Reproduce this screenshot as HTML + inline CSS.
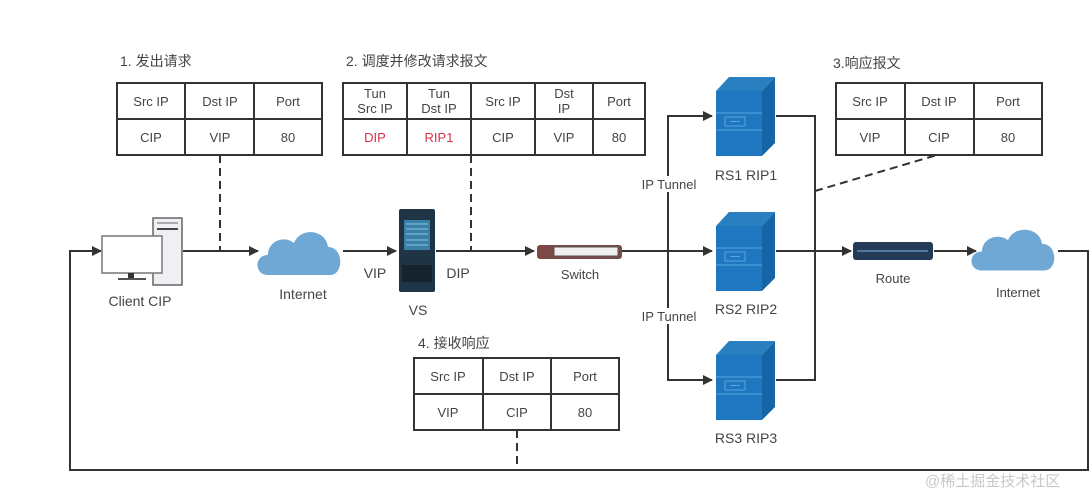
<!DOCTYPE html>
<html><head><meta charset="utf-8"><style>
html,body{margin:0;padding:0;background:#fff;}
svg{display:block;}
text{font-family:"Liberation Sans","Noto Sans CJK SC",sans-serif;fill:#444;}
</style></head><body>
<svg width="1091" height="495" viewBox="0 0 1091 495" xmlns="http://www.w3.org/2000/svg">
<defs>
<marker id="a" markerWidth="10" markerHeight="10" refX="9" refY="5" orient="auto" markerUnits="userSpaceOnUse"><path d="M0,0 L10,5 L0,10 z" fill="#333"/></marker>
<g id="srv">
<polygon points="716,14 729,0 775,0 762,14" fill="#2a7fc0"/>
<polygon points="762,14 775,0 775,66 762,79" fill="#1565a6"/>
<rect x="716" y="14" width="46" height="65" fill="#1f78bf"/>
<line x1="716" y1="36" x2="762" y2="36" stroke="#5aa6dd" stroke-width="1"/>
<line x1="716" y1="53" x2="762" y2="53" stroke="#5aa6dd" stroke-width="1"/>
<rect x="725" y="40" width="20" height="9" fill="none" stroke="#5aa6dd" stroke-width="1"/>
<line x1="730" y1="44.5" x2="740" y2="44.5" stroke="#5aa6dd"/>
</g>
<g id="cloud"><path d="M0,50 C-14,50 -14,30 0,30 C0,16 16,10 26,18 C32,2 58,4 60,22 C76,22 76,50 62,50 Z" fill="#6fa8d4"/></g>
</defs>
<g stroke="#333" stroke-width="2" fill="none">
<!-- main line -->
<line x1="183" y1="251" x2="258" y2="251" marker-end="url(#a)"/>
<line x1="343" y1="251" x2="396" y2="251" marker-end="url(#a)"/>
<line x1="436" y1="251" x2="534" y2="251" marker-end="url(#a)"/>
<line x1="622" y1="251" x2="712" y2="251" marker-end="url(#a)"/>
<polyline points="712,116 668,116 668,380 712,380"/>
<line x1="668" y1="116" x2="712" y2="116" marker-end="url(#a)"/>
<line x1="668" y1="380" x2="712" y2="380" marker-end="url(#a)"/>
<polyline points="776,116 815,116 815,380 776,380"/>
<line x1="776" y1="251" x2="851" y2="251" marker-end="url(#a)"/>
<line x1="934" y1="251" x2="976" y2="251" marker-end="url(#a)"/>
<polyline points="1058,251 1088,251 1088,470 70,470 70,251 100,251"/>
<line x1="70" y1="251" x2="101" y2="251" marker-end="url(#a)"/>
<g stroke-dasharray="8,5">
<line x1="220" y1="155" x2="220" y2="251"/>
<line x1="471" y1="155" x2="471" y2="251"/>
<line x1="517" y1="430" x2="517" y2="470"/>
<line x1="815" y1="191" x2="937" y2="155"/>
</g>
</g>
<!-- tables -->
<g stroke="#333" stroke-width="2" fill="#fff">
<rect x="117" y="83" width="205" height="72"/>
<line x1="117" y1="119" x2="322" y2="119"/><line x1="185" y1="83" x2="185" y2="155"/><line x1="254" y1="83" x2="254" y2="155"/>
<rect x="343" y="83" width="302" height="72"/>
<line x1="343" y1="119" x2="645" y2="119"/><line x1="407" y1="83" x2="407" y2="155"/><line x1="471" y1="83" x2="471" y2="155"/><line x1="535" y1="83" x2="535" y2="155"/><line x1="593" y1="83" x2="593" y2="155"/>
<rect x="836" y="83" width="206" height="72"/>
<line x1="836" y1="119" x2="1042" y2="119"/><line x1="905" y1="83" x2="905" y2="155"/><line x1="974" y1="83" x2="974" y2="155"/>
<rect x="414" y="358" width="205" height="72"/>
<line x1="414" y1="394" x2="619" y2="394"/><line x1="483" y1="358" x2="483" y2="430"/><line x1="551" y1="358" x2="551" y2="430"/>
</g>
<g font-size="13" text-anchor="middle">
<text x="151" y="106">Src IP</text><text x="220" y="106">Dst IP</text><text x="288" y="106">Port</text>
<text x="151" y="142">CIP</text><text x="220" y="142">VIP</text><text x="288" y="142">80</text>
<text x="375" y="98">Tun</text><text x="375" y="113">Src IP</text><text x="439" y="98">Tun</text><text x="439" y="113">Dst IP</text>
<text x="503" y="106">Src IP</text><text x="564" y="98">Dst</text><text x="564" y="113">IP</text><text x="619" y="106">Port</text>
<text x="375" y="142" style="fill:#d9344a">DIP</text><text x="439" y="142" style="fill:#d9344a">RIP1</text><text x="503" y="142">CIP</text><text x="564" y="142">VIP</text><text x="619" y="142">80</text>
<text x="870" y="106">Src IP</text><text x="939" y="106">Dst IP</text><text x="1008" y="106">Port</text>
<text x="870" y="142">VIP</text><text x="939" y="142">CIP</text><text x="1008" y="142">80</text>
<text x="448" y="381">Src IP</text><text x="517" y="381">Dst IP</text><text x="585" y="381">Port</text>
<text x="448" y="417">VIP</text><text x="517" y="417">CIP</text><text x="585" y="417">80</text>
</g>
<g font-size="14">
<text x="120" y="66">1. 发出请求</text>
<text x="346" y="66">2. 调度并修改请求报文</text>
<text x="833" y="68">3.响应报文</text>
<text x="418" y="348">4. 接收响应</text>
</g>
<!-- client -->
<rect x="153" y="218" width="29" height="67" fill="#eef0f4" stroke="#666" stroke-width="1.5"/>
<line x1="157" y1="223" x2="178" y2="223" stroke="#666"/><line x1="157" y1="229" x2="178" y2="229" stroke="#444" stroke-width="2"/>
<rect x="102" y="236" width="60" height="37" fill="#fff" stroke="#777" stroke-width="1.5"/>
<rect x="128" y="273" width="6" height="5" fill="#333"/><line x1="118" y1="279" x2="146" y2="279" stroke="#555" stroke-width="2"/>
<g font-size="14" text-anchor="middle">
<text x="140" y="306">Client CIP</text>
<text x="303" y="299">Internet</text>
<text x="375" y="278">VIP</text>
<text x="458" y="278">DIP</text>
<text x="418" y="315">VS</text>
<text x="580" y="279" font-size="13">Switch</text>
<text x="746" y="180">RS1 RIP1</text>
<text x="746" y="314">RS2 RIP2</text>
<text x="746" y="443">RS3 RIP3</text>
<text x="893" y="283" font-size="13">Route</text>
<text x="1018" y="297" font-size="13">Internet</text>
</g>
<g font-size="13" text-anchor="middle">
<rect x="636" y="176" width="66" height="16" fill="#fff"/><text x="669" y="189">IP Tunnel</text>
<rect x="636" y="308" width="66" height="16" fill="#fff"/><text x="669" y="321">IP Tunnel</text>
</g>
<use href="#cloud" transform="translate(268,225)"/>
<use href="#cloud" transform="translate(982,223) scale(1,0.95)"/>
<!-- VS -->
<rect x="399" y="209" width="36" height="83" rx="2" fill="#1f3444"/>
<rect x="404" y="220" width="26" height="30" fill="#3a7fa8"/>
<g stroke="#8fc4e0" stroke-width="1"><line x1="406" y1="224" x2="428" y2="224"/><line x1="406" y1="229" x2="428" y2="229"/><line x1="406" y1="234" x2="428" y2="234"/><line x1="406" y1="240" x2="428" y2="240"/><line x1="406" y1="245" x2="428" y2="245"/></g>
<rect x="402" y="265" width="30" height="17" fill="#15242e"/>
<!-- switch -->
<rect x="537" y="245" width="85" height="14" rx="3" fill="#7a4a48"/>
<rect x="554" y="247" width="64" height="9" fill="#eee" stroke="#555"/>
<!-- route -->
<rect x="853" y="242" width="80" height="18" rx="3" fill="#233b56"/>
<line x1="857" y1="251" x2="928" y2="251" stroke="#4f78a0" stroke-width="2"/>
<use href="#srv" transform="translate(0,77)"/>
<use href="#srv" transform="translate(0,212)"/>
<use href="#srv" transform="translate(0,341)"/>
<text x="925" y="486" font-size="15" style="fill:#c8c8c8">@稀土掘金技术社区</text>
</svg>
</body></html>
